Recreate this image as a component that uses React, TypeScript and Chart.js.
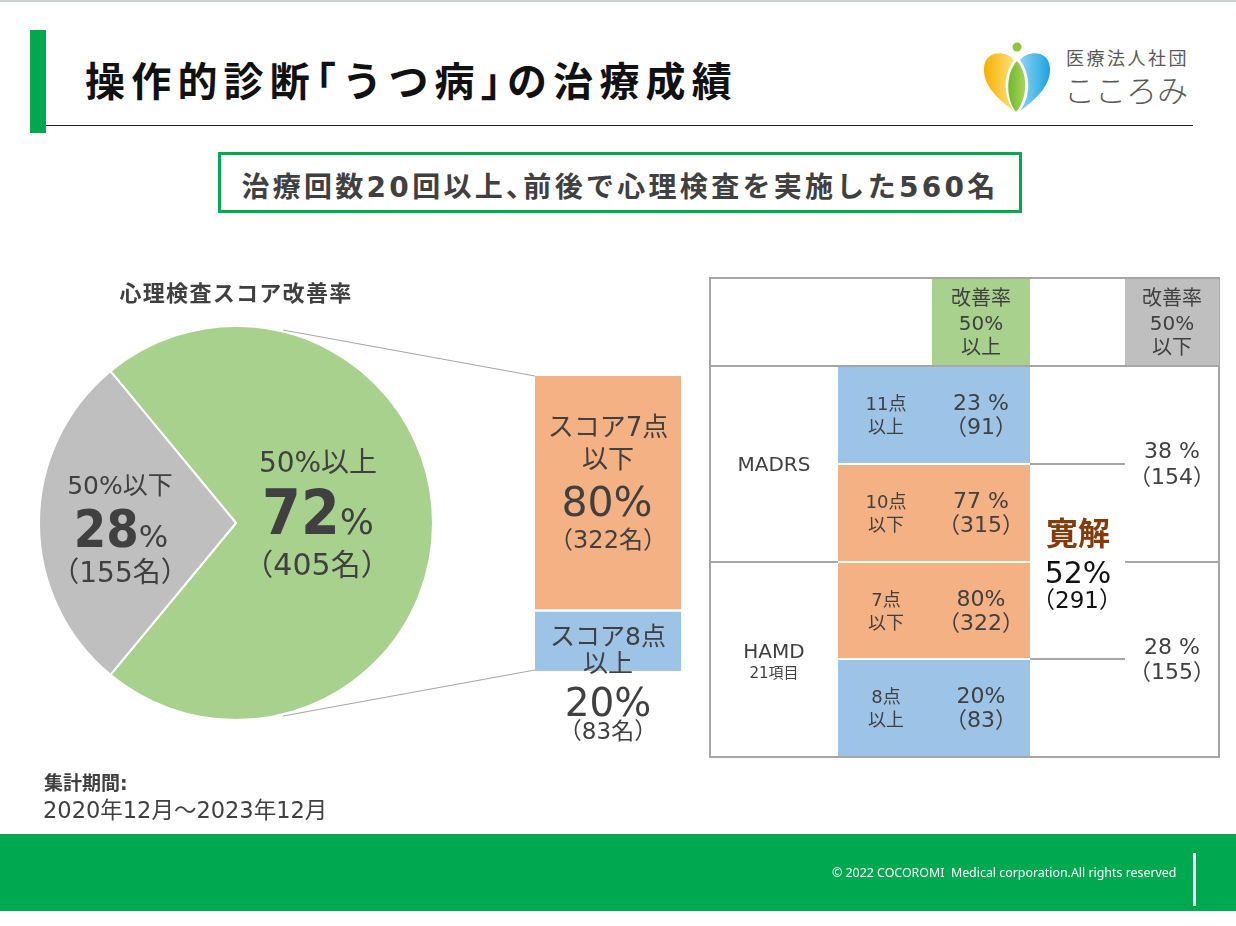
import React, { useEffect, useRef } from 'react';
import { Chart, registerables } from 'chart.js';
Chart.register(...registerables);

// ---- data ----
const pieLabels = ['50%以上', '50%以下'];
const pieValues = [72, 28];
const pieCounts = [405, 155];
const barLabels = ['スコア8点以上', 'スコア7点以下'];
const barValues = [20, 80];
const barCounts = [83, 322];
const headerLabels = ['改善率', '改善率'];
const headerPct = ['50%', '50%'];
const headerDir = ['以上', '以下'];
const tableScales = ['MADRS', 'HAMD'];
const tableScaleSub = ['', '21項目'];
const cutoffTop = ['11点', '10点', '7点', '8点'];
const cutoffBottom = ['以上', '以下', '以下', '以上'];
const cellPct = ['23 %', '77 %', '80%', '20%'];
const cellCounts = [91, 315, 322, 83];
const nonRespPct = ['38 %', '28 %'];
const nonRespCounts = [154, 155];
const remissionLabel = '寛解';
const remissionPct = 52;
const remissionCount = 291;

const FONT = "'DejaVu Sans', 'Noto Sans CJK JP', sans-serif";
const BIGFONT = "'DejaVu Sans Condensed', 'DejaVu Sans', sans-serif";
const TXT = '#404040';
const GREEN = '#00a84f';
const PIE_GREEN = '#a9d18e';
const PIE_GRAY = '#bfbfbf';
const ORANGE = '#f4b183';
const BLUE = '#9dc3e6';
const LINE = '#a6a6a6';

function T(props: any) {
  const { x, y, size, children, weight = 400, color = TXT, ls = 0, align = 'center', family = FONT, feat } = props;
  return (
    <div
      style={{
        position: 'absolute',
        left: x,
        top: y,
        transform: align === 'center' ? 'translate(-50%,-50%)' : 'translateY(-50%)',
        fontSize: size,
        fontWeight: weight,
        color,
        lineHeight: 1,
        whiteSpace: 'nowrap',
        letterSpacing: ls,
        fontFamily: family,
        fontFeatureSettings: feat,
      }}
    >
      {children}
    </div>
  );
}

function Box(props: any) {
  const { x, y, w, h, bg, style } = props;
  return <div style={{ position: 'absolute', left: x, top: y, width: w, height: h, background: bg, ...style }} />;
}

export default function App() {
  const pieRef = useRef<HTMLCanvasElement>(null);
  const barRef = useRef<HTMLCanvasElement>(null);

  useEffect(() => {
    const pie = new Chart(pieRef.current!, {
      type: 'pie',
      data: {
        labels: pieLabels,
        datasets: [
          {
            data: pieValues,
            backgroundColor: [PIE_GREEN, PIE_GRAY],
            borderColor: '#ffffff',
            borderWidth: 2,
          },
        ],
      },
      options: {
        responsive: false,
        animation: false,
        events: [],
        rotation: 320.4,
        radius: 197,
        layout: { padding: 0 },
        plugins: { legend: { display: false }, tooltip: { enabled: false } },
      } as any,
    });
    const bar = new Chart(barRef.current!, {
      type: 'bar',
      data: {
        labels: ['score'],
        datasets: [
          { label: barLabels[0], data: [barValues[0]], backgroundColor: BLUE, borderWidth: 0 },
          {
            label: barLabels[1],
            data: [barValues[1]],
            backgroundColor: ORANGE,
            borderColor: '#ffffff',
            borderWidth: { top: 0, left: 0, right: 0, bottom: 3 },
            borderSkipped: false,
          },
        ],
      },
      options: {
        responsive: false,
        animation: false,
        events: [],
        layout: { padding: 0 },
        datasets: { bar: { barPercentage: 1, categoryPercentage: 1 } },
        scales: {
          x: { display: false, stacked: true },
          y: { display: false, stacked: true, min: 0, max: 100 },
        },
        plugins: { legend: { display: false }, tooltip: { enabled: false } },
      } as any,
    });
    return () => {
      pie.destroy();
      bar.destroy();
    };
  }, []);

  // table geometry
  const tL = 710, tR = 1219, tT = 278, tB = 757;
  const c1 = 838, c2 = 932, c3 = 1030, c4 = 1125;
  const hB = 366;
  const rowYs = [366, 464, 562, 659, 757];
  const cellColors = [BLUE, ORANGE, ORANGE, BLUE];

  return (
    <div
      style={{
        position: 'fixed',
        left: 0,
        top: 0,
        width: 1236,
        height: 926,
        background: '#ffffff',
        overflow: 'hidden',
        fontFamily: FONT,
      }}
    >
      {/* top thin line */}
      <Box x={0} y={0} w={1236} h={2} bg="#cfd5d5" />
      {/* header */}
      <Box x={30} y={30} w={16} h={103} bg={GREEN} />
      <Box x={46} y={125} w={1147} h={1} bg="#222" />
      <T x={85} y={79} size={40} weight={700} color="#111" ls={6.2} align="left" family="'Noto Sans CJK JP', sans-serif" feat="'halt'">
        操作的診断「うつ病」の治療成績
      </T>
      {/* logo */}
      <svg style={{ position: 'absolute', left: 982, top: 40 }} width={72} height={74} viewBox="0 0 72 74">
        <defs>
          <linearGradient id="gy" x1="0" y1="0" x2="1" y2="0">
            <stop offset="0" stopColor="#f6b000" />
            <stop offset="1" stopColor="#fde07a" />
          </linearGradient>
          <linearGradient id="gb" x1="1" y1="0" x2="0" y2="0">
            <stop offset="0" stopColor="#1aa3e0" />
            <stop offset="1" stopColor="#8fd3f3" />
          </linearGradient>
          <linearGradient id="gg" x1="0" y1="0" x2="1" y2="0">
            <stop offset="0" stopColor="#6fb92c" />
            <stop offset="1" stopColor="#a8d45a" />
          </linearGradient>
        </defs>
        <circle cx={35} cy={7} r={4.5} fill="#8dc63f" />
        <path d="M32 20 C 24 10, 3 10, 2 28 C 1 44, 14 58, 32 71 C 22 58, 20 36, 32 20 Z" fill="url(#gy)" />
        <path d="M38 20 C 46 10, 67 10, 68 28 C 69 44, 56 58, 38 71 C 48 58, 50 36, 38 20 Z" fill="url(#gb)" />
        <path d="M35 21 C 23 34, 24 60, 34 72 C 45 60, 47 34, 35 21 Z" fill="url(#gg)" />
      </svg>
      <T x={1066} y={59} size={18} ls={2.5} color="#595959" align="left">
        医療法人社団
      </T>
      <T x={1064} y={91} size={31} weight={300} color="#595959" align="left">
        こころみ
      </T>

      {/* subtitle */}
      <div
        style={{
          position: 'absolute',
          left: 218,
          top: 152,
          width: 804,
          height: 61,
          border: `3px solid ${GREEN}`,
          boxSizing: 'border-box',
        }}
      />
      <T x={620} y={188} size={28} weight={700} ls={3.3} feat="'halt'">
        治療回数20回以上、前後で心理検査を実施した560名
      </T>

      {/* charts */}
      <canvas ref={pieRef} width={472} height={472} style={{ position: 'absolute', left: 0, top: 287 }} />
      <canvas ref={barRef} width={146} height={295} style={{ position: 'absolute', left: 535, top: 376 }} />
      <svg style={{ position: 'absolute', left: 0, top: 0 }} width={1236} height={926}>
        <line x1={283} y1={330} x2={535} y2={376} stroke={LINE} strokeWidth={1} />
        <line x1={283} y1={716} x2={535} y2={670} stroke={LINE} strokeWidth={1} />
      </svg>

      {/* pie labels */}
      <T x={236} y={294} size={22} weight={700} ls={1.3}>
        心理検査スコア改善率
      </T>
      <T x={318} y={463} size={28}>{pieLabels[0]}</T>
      <T x={318} y={513}>
        <span style={{ fontSize: 62, fontWeight: 700, fontFamily: BIGFONT }}>{pieValues[0]}</span>
        <span style={{ fontSize: 36 }}>%</span>
      </T>
      <T x={317} y={565} size={30}>（{pieCounts[0]}名）</T>
      <T x={120} y={485} size={25}>{pieLabels[1]}</T>
      <T x={121} y={529}>
        <span style={{ fontSize: 52, fontWeight: 700, fontFamily: BIGFONT }}>{pieValues[1]}</span>
        <span style={{ fontSize: 31 }}>%</span>
      </T>
      <T x={120} y={573} size={28}>（{pieCounts[1]}名）</T>

      {/* bar labels */}
      <T x={608} y={427} size={26}>スコア7点</T>
      <T x={608} y={459} size={26}>以下</T>
      <T x={607} y={502} size={41}>{barValues[1]}%</T>
      <T x={608} y={540} size={24}>（{barCounts[1]}名）</T>
      <T x={608} y={636} size={25}>スコア8点</T>
      <T x={608} y={663} size={25}>以上</T>
      <T x={608} y={702} size={39}>{barValues[0]}%</T>
      <T x={608} y={731} size={23}>（{barCounts[0]}名）</T>

      {/* table */}
      <div
        style={{
          position: 'absolute',
          left: tL - 1,
          top: tT - 1,
          width: tR - tL + 2,
          height: tB - tT + 2,
          border: `2px solid ${LINE}`,
          boxSizing: 'border-box',
        }}
      />
      <Box x={c2} y={tT + 1} w={c3 - c2} h={hB - tT - 2} bg={PIE_GREEN} />
      <Box x={c4} y={tT + 1} w={tR - c4} h={hB - tT - 2} bg={PIE_GRAY} />
      <Box x={tL} y={hB - 1} w={tR - tL} h={2} bg={LINE} />
      {cellColors.map((c, i) => (
        <Box key={i} x={c1} y={rowYs[i] + 1} w={c3 - c1} h={rowYs[i + 1] - rowYs[i] - 2} bg={c} />
      ))}
      <Box x={tL} y={561} w={c1 - tL} h={2} bg={LINE} />
      <Box x={c4} y={561} w={tR - c4} h={2} bg={LINE} />
      <Box x={c3} y={463} w={c4 - c3} h={2} bg={LINE} />
      <Box x={c3} y={658} w={c4 - c3} h={2} bg={LINE} />

      {[981, 1172].map((x, i) => (
        <React.Fragment key={i}>
          <T x={x} y={298} size={20}>{headerLabels[i]}</T>
          <T x={x} y={323} size={20}>{headerPct[i]}</T>
          <T x={x} y={347} size={20}>{headerDir[i]}</T>
        </React.Fragment>
      ))}
      {cutoffTop.map((t, i) => {
        const cy = (rowYs[i] + rowYs[i + 1]) / 2;
        return (
          <React.Fragment key={i}>
            <T x={886} y={cy - 11} size={18}>{t}</T>
            <T x={886} y={cy + 12} size={18}>{cutoffBottom[i]}</T>
            <T x={981} y={cy - 12} size={22}>{cellPct[i]}</T>
            <T x={981} y={cy + 12} size={22}>（{cellCounts[i]}）</T>
          </React.Fragment>
        );
      })}
      <T x={774} y={464} size={20}>{tableScales[0]}</T>
      <T x={774} y={651} size={20}>{tableScales[1]}</T>
      <T x={774} y={673} size={15}>{tableScaleSub[1]}</T>
      <T x={1172} y={451} size={22}>{nonRespPct[0]}</T>
      <T x={1172} y={477} size={22}>（{nonRespCounts[0]}）</T>
      <T x={1172} y={647} size={22}>{nonRespPct[1]}</T>
      <T x={1172} y={672} size={22}>（{nonRespCounts[1]}）</T>
      <T x={1078} y={534} size={32} weight={700} color="#843c0c">{remissionLabel}</T>
      <T x={1078} y={573} size={30} color="#111">{remissionPct}%</T>
      <T x={1077} y={600} size={23} color="#111">（{remissionCount}）</T>

      {/* period */}
      <T x={44} y={783} size={19} weight={700} align="left">集計期間:</T>
      <T x={43} y={810} size={22.5} align="left">2020年12月～2023年12月</T>

      {/* footer */}
      <Box x={0} y={834} w={1236} h={77} bg={GREEN} />
      <Box x={1193} y={853} w={3} h={53} bg="#ffffff" />
      <T x={832} y={873} size={12.4} color="#ffffff" family="'Noto Sans', sans-serif" align="left">
        © 2022 COCOROMI&nbsp; Medical corporation.All rights reserved
      </T>
    </div>
  );
}
